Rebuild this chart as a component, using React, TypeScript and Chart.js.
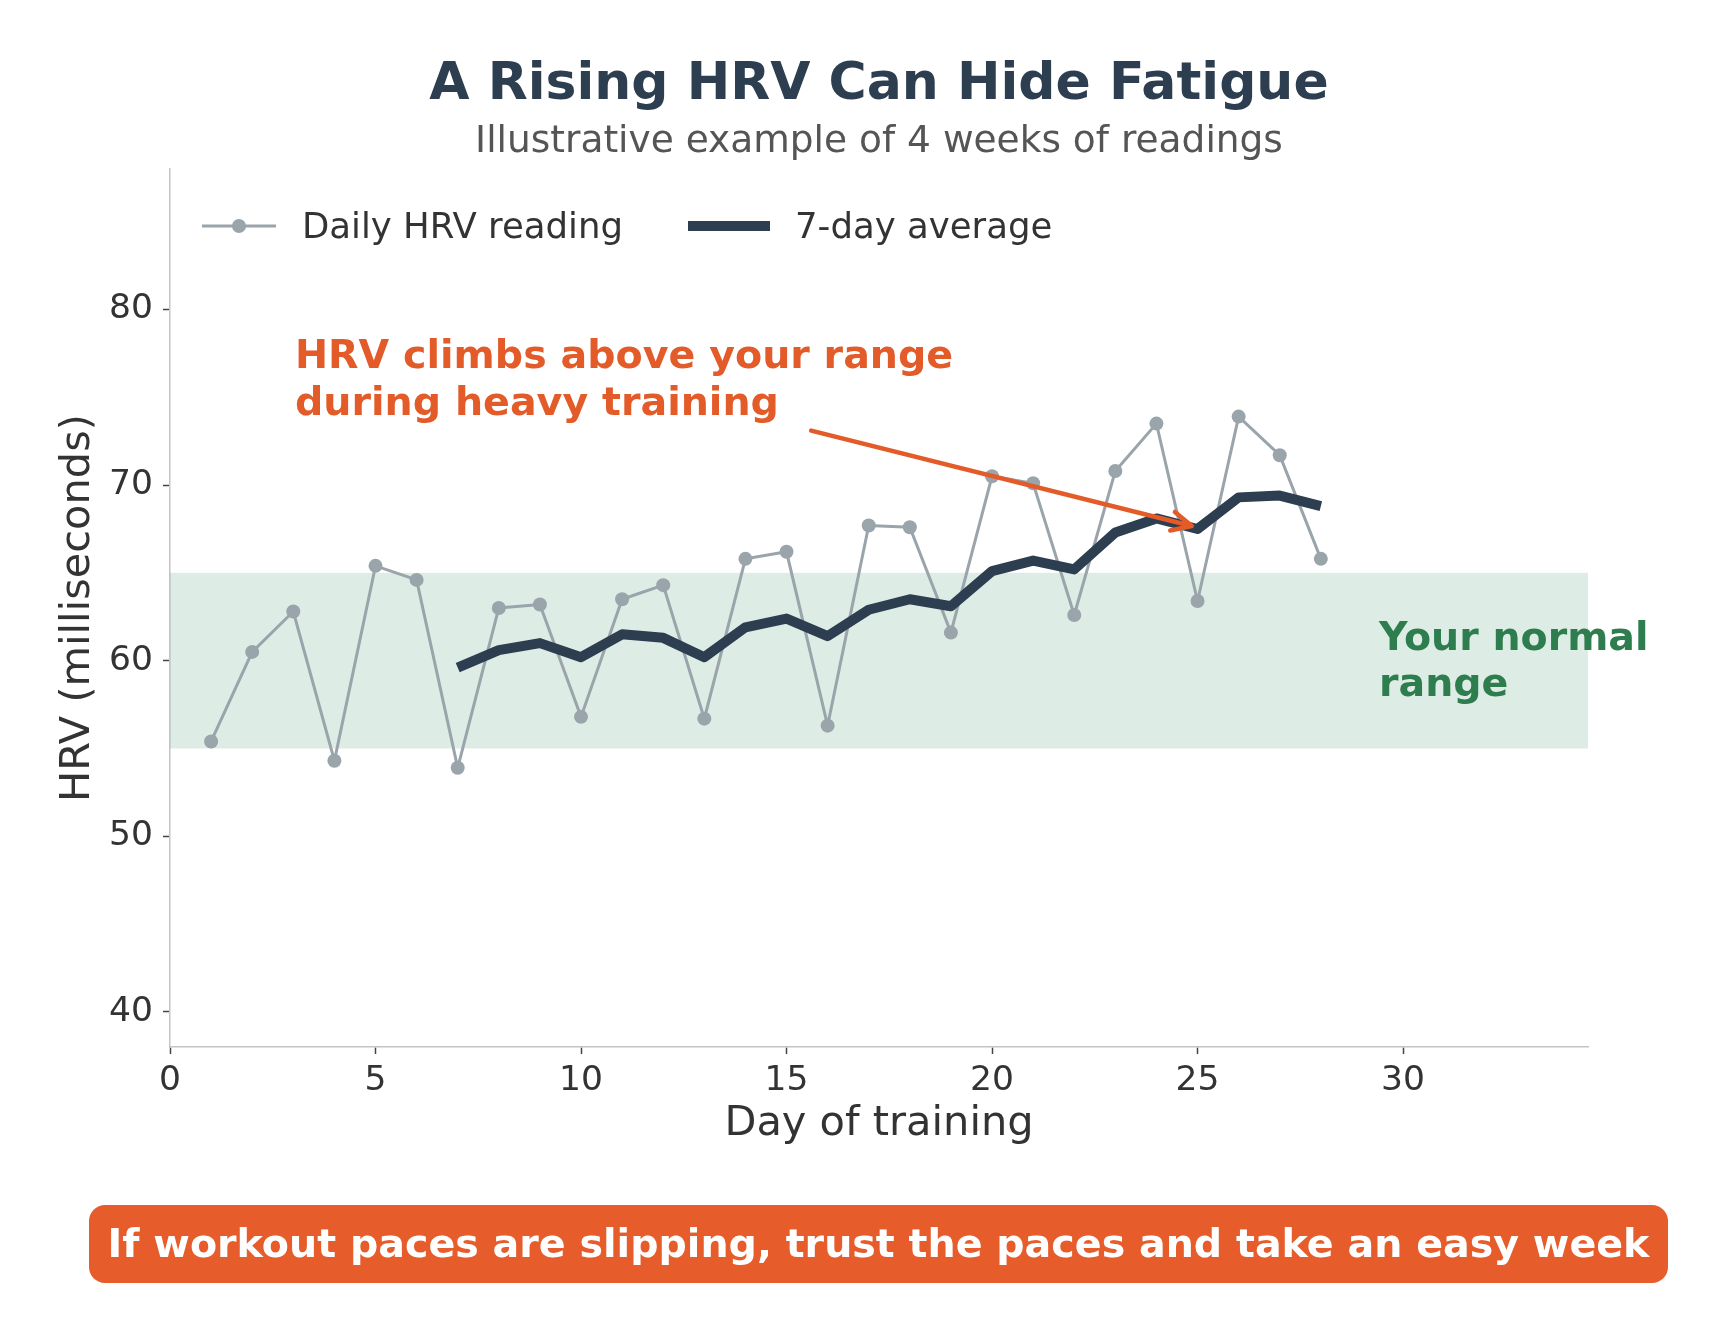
import React from "react";
import { Chart, ChartConfiguration, Plugin, registerables } from "chart.js";

Chart.register(...registerables);

const days = [
  1, 2, 3, 4, 5, 6, 7, 8, 9, 10, 11, 12, 13, 14, 15, 16, 17, 18, 19, 20, 21,
  22, 23, 24, 25, 26, 27, 28,
];
const dailyHrv = [
  55.4, 60.5, 62.8, 54.3, 65.4, 64.6, 53.9, 63.0, 63.2, 56.8, 63.5, 64.3, 56.7,
  65.8, 66.2, 56.3, 67.7, 67.6, 61.6, 70.5, 70.1, 62.6, 70.8, 73.5, 63.4, 73.9,
  71.7, 65.8,
];
const avgDays = [
  7, 8, 9, 10, 11, 12, 13, 14, 15, 16, 17, 18, 19, 20, 21, 22, 23, 24, 25, 26,
  27, 28,
];
const avgHrv = [
  59.6, 60.6, 61.0, 60.2, 61.5, 61.3, 60.2, 61.9, 62.4, 61.4, 62.9, 63.5, 63.1,
  65.1, 65.7, 65.2, 67.3, 68.1, 67.5, 69.3, 69.4, 68.8,
];
const normalRange = [55, 65];
const xTicks = [0, 5, 10, 15, 20, 25, 30];
const yTicks = [40, 50, 60, 70, 80];

const FONT = '"DejaVu Sans", sans-serif';
const NAVY = "#2c3e50";
const GREY = "#9aa4ab";
const ORANGE = "#e35b29";
const GREEN = "#2e7d4f";
const INK = "#333333";

const W = 1710;
const H = 1327;

const extras: Plugin<"line"> = {
  id: "extras",
  beforeDatasetsDraw(chart) {
    const { ctx, chartArea, scales } = chart;
    const y = scales.y;
    const top = y.getPixelForValue(normalRange[1]);
    const bottom = y.getPixelForValue(normalRange[0]);
    ctx.save();
    ctx.fillStyle = "rgba(46,139,87,0.16)";
    ctx.fillRect(chartArea.left, top, chartArea.right - chartArea.left, bottom - top);
    ctx.restore();
  },
  afterDatasetsDraw(chart) {
    const { ctx, scales } = chart;
    const x = scales.x;
    const y = scales.y;
    // arrow
    const x0 = x.getPixelForValue(15.6);
    const y0 = y.getPixelForValue(73.1);
    const x1 = x.getPixelForValue(24.86);
    const y1 = y.getPixelForValue(67.67);
    const ang = Math.atan2(y1 - y0, x1 - x0);
    ctx.save();
    ctx.strokeStyle = ORANGE;
    ctx.lineWidth = 4.5;
    ctx.lineCap = "round";
    ctx.lineJoin = "round";
    ctx.beginPath();
    ctx.moveTo(x0, y0);
    ctx.lineTo(x1, y1);
    const hl = 22;
    const ha = 0.45;
    ctx.moveTo(x1 - hl * Math.cos(ang - ha), y1 - hl * Math.sin(ang - ha));
    ctx.lineTo(x1, y1);
    ctx.lineTo(x1 - hl * Math.cos(ang + ha), y1 - hl * Math.sin(ang + ha));
    ctx.stroke();

    // annotation text
    ctx.fillStyle = ORANGE;
    ctx.font = `bold 39.6px ${FONT}`;
    ctx.textAlign = "left";
    ctx.textBaseline = "alphabetic";
    ctx.fillText("HRV climbs above your range", 295, 368);
    ctx.fillText("during heavy training", 295, 415);

    ctx.fillStyle = GREEN;
    ctx.font = `bold 39.5px ${FONT}`;
    ctx.fillText("Your normal", 1379, 650);
    ctx.fillText("range", 1379, 696);
    ctx.restore();
  },
  afterDraw(chart) {
    const { ctx, chartArea } = chart;
    const cx = (chartArea.left + chartArea.right) / 2;
    ctx.save();
    ctx.textAlign = "center";
    ctx.textBaseline = "alphabetic";
    ctx.fillStyle = NAVY;
    ctx.font = `bold 52px ${FONT}`;
    ctx.fillText("A Rising HRV Can Hide Fatigue", cx, 99);
    ctx.fillStyle = "#555555";
    ctx.font = `37.5px ${FONT}`;
    ctx.fillText("Illustrative example of 4 weeks of readings", cx, 152);

    // axis titles
    ctx.fillStyle = INK;
    ctx.font = `41.5px ${FONT}`;
    ctx.fillText("Day of training", cx, 1135);
    ctx.save();
    ctx.translate(89, (chartArea.top + chartArea.bottom) / 2);
    ctx.rotate(-Math.PI / 2);
    ctx.fillText("HRV (milliseconds)", 0, 0);
    ctx.restore();

    // legend
    ctx.textAlign = "left";
    ctx.font = `35.5px ${FONT}`;
    ctx.strokeStyle = GREY;
    ctx.lineWidth = 3;
    ctx.beginPath();
    ctx.moveTo(202, 226);
    ctx.lineTo(276, 226);
    ctx.stroke();
    ctx.fillStyle = GREY;
    ctx.beginPath();
    ctx.arc(239, 226, 7, 0, Math.PI * 2);
    ctx.fill();
    ctx.fillStyle = INK;
    ctx.fillText("Daily HRV reading", 302, 238);
    ctx.strokeStyle = NAVY;
    ctx.lineWidth = 10;
    ctx.beginPath();
    ctx.moveTo(688, 226);
    ctx.lineTo(770, 226);
    ctx.stroke();
    ctx.fillText("7-day average", 795, 238);

    // banner
    ctx.fillStyle = "#e65c2b";
    ctx.beginPath();
    ctx.roundRect(89, 1205, 1579, 78, 16);
    ctx.fill();
    ctx.fillStyle = "#ffffff";
    ctx.textAlign = "center";
    ctx.font = `bold 39.6px ${FONT}`;
    ctx.fillText(
      "If workout paces are slipping, trust the paces and take an easy week",
      (89 + 1668) / 2,
      1257
    );
    ctx.restore();
  },
};

const App: React.FC = () => {
  const canvasRef = React.useRef<HTMLCanvasElement | null>(null);
  const chartRef = React.useRef<Chart<"line"> | null>(null);

  React.useEffect(() => {
    document.body.style.margin = "0";
    const canvas = canvasRef.current;
    if (!canvas) return;
    chartRef.current?.destroy();

    const tickFont = { family: FONT, size: 34.5 };

    const config: ChartConfiguration<"line"> = {
      type: "line",
      data: {
        datasets: [
          {
            label: "Daily HRV reading",
            data: days.map((d, i) => ({ x: d, y: dailyHrv[i] })),
            borderColor: GREY,
            backgroundColor: GREY,
            borderWidth: 3,
            pointRadius: 7,
            pointBorderWidth: 0,
            pointBackgroundColor: GREY,
            tension: 0,
            order: 1,
          },
          {
            label: "7-day average",
            data: avgDays.map((d, i) => ({ x: d, y: avgHrv[i] })),
            borderColor: NAVY,
            backgroundColor: NAVY,
            borderWidth: 10,
            pointRadius: 0,
            borderJoinStyle: "round",
            tension: 0,
            order: 0,
          },
        ],
      },
      options: {
        responsive: false,
        animation: false,
        devicePixelRatio: 1,
        layout: { padding: { left: 0, top: 169, right: W - 1588, bottom: 0 } },
        plugins: {
          legend: { display: false },
          title: { display: false },
          tooltip: { enabled: false },
        },
        scales: {
          x: {
            type: "linear",
            min: 0,
            max: 34.5,
            afterBuildTicks: (axis) => {
              axis.ticks = xTicks.map((v) => ({ value: v }));
            },
            afterFit: (s) => {
              s.height = H - 1047;
            },
            ticks: {
              font: tickFont,
              color: INK,
              padding: 6,
              autoSkip: false,
              maxRotation: 0,
              callback: (v) => String(v),
            },
            grid: {
              drawOnChartArea: false,
              tickLength: 7,
              tickColor: "#444444",
              tickWidth: 1.5,
            },
            border: { color: "#c4c4c4", width: 1.5 },
          },
          y: {
            type: "linear",
            min: 38,
            max: 88,
            afterBuildTicks: (axis) => {
              axis.ticks = yTicks.map((v) => ({ value: v }));
            },
            afterFit: (s) => {
              s.width = 170;
            },
            ticks: {
              font: tickFont,
              color: INK,
              padding: 10,
              autoSkip: false,
              callback: (v) => String(v),
            },
            grid: {
              drawOnChartArea: false,
              tickLength: 7,
              tickColor: "#444444",
              tickWidth: 1.5,
            },
            border: { color: "#c4c4c4", width: 1.5 },
          },
        },
      },
      plugins: [extras],
    };

    chartRef.current = new Chart(canvas, config);
    return () => {
      chartRef.current?.destroy();
    };
  }, []);

  return (
    <div style={{ width: W, height: H, background: "#ffffff" }}>
      <canvas ref={canvasRef} width={W} height={H} />
    </div>
  );
};

export default App;
